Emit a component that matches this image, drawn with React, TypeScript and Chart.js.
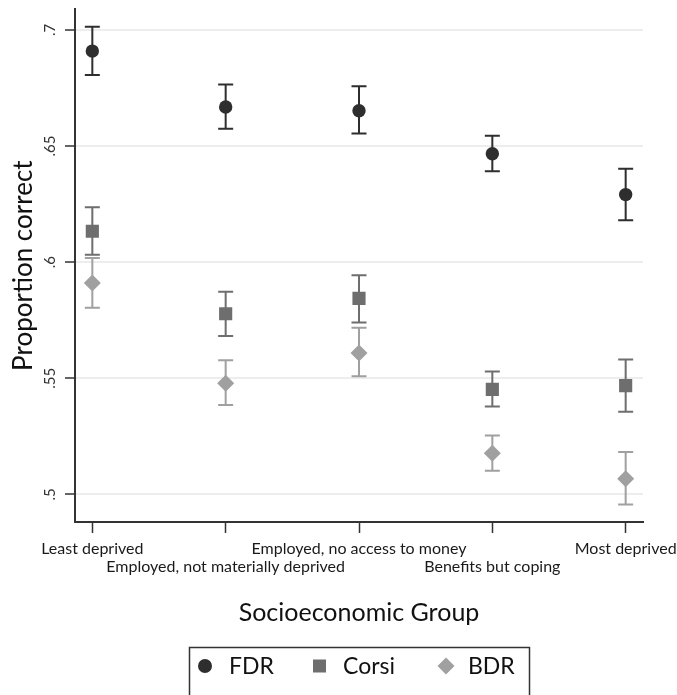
import React, { useEffect, useRef } from 'react';
import { Chart, registerables } from 'chart.js';

Chart.register(...registerables);

const categories = [
  'Least deprived',
  'Employed, not materially deprived',
  'Employed, no access to money',
  'Benefits but coping',
  'Most deprived',
];
const seriesNames = ['FDR', 'Corsi', 'BDR'];
const fdrMean = [0.6909, 0.6668, 0.6652, 0.6467, 0.6291];
const fdrLow = [0.6806, 0.6575, 0.6554, 0.6392, 0.618];
const fdrHigh = [0.7014, 0.6765, 0.6758, 0.6544, 0.6402];
const corsiMean = [0.6133, 0.5778, 0.5844, 0.5452, 0.5468];
const corsiLow = [0.6032, 0.5682, 0.574, 0.5378, 0.5356];
const corsiHigh = [0.6237, 0.5873, 0.5944, 0.5529, 0.5581];
const bdrMean = [0.591, 0.5479, 0.5609, 0.5177, 0.5067];
const bdrLow = [0.5804, 0.5385, 0.5509, 0.5102, 0.4956];
const bdrHigh = [0.6018, 0.5578, 0.5718, 0.5253, 0.5182];
const yTicks = [0.5, 0.55, 0.6, 0.65, 0.7];
const yTickLabels = ['.5', '.55', '.6', '.65', '.7'];

const colors = ['#2e2e2e', '#6e6e6e', '#a0a0a0'];
const pointStyles = ['circle', 'rect', 'rectRot'];
const pointRadii = [6.7, 9.3, 8.5];
const FONT = 'Lato';

const means = [fdrMean, corsiMean, bdrMean];
const lows = [fdrLow, corsiLow, bdrLow];
const highs = [fdrHigh, corsiHigh, bdrHigh];

const errorBarPlugin = {
  id: 'errorBars',
  beforeDatasetsDraw(chart: any) {
    const { ctx, scales } = chart;
    const xs = scales.x;
    const ys = scales.y;
    ctx.save();
    means.forEach((_, si) => {
      ctx.strokeStyle = colors[si];
      ctx.lineWidth = 2;
      categories.forEach((__, i) => {
        const x = xs.getPixelForValue(i);
        const yl = ys.getPixelForValue(lows[si][i]);
        const yh = ys.getPixelForValue(highs[si][i]);
        ctx.beginPath();
        ctx.moveTo(x, yl);
        ctx.lineTo(x, yh);
        ctx.moveTo(x - 7.5, yl);
        ctx.lineTo(x + 7.5, yl);
        ctx.moveTo(x - 7.5, yh);
        ctx.lineTo(x + 7.5, yh);
        ctx.stroke();
      });
    });
    ctx.restore();
  },
};

const textPlugin = {
  id: 'texts',
  afterDraw(chart: any) {
    const { ctx, scales, chartArea } = chart;
    const xs = scales.x;
    const ys = scales.y;
    ctx.save();
    // y tick labels (rotated)
    ctx.fillStyle = '#333';
    ctx.font = `15px ${FONT}`;
    ctx.textAlign = 'center';
    ctx.textBaseline = 'alphabetic';
    yTicks.forEach((v, i) => {
      const y = ys.getPixelForValue(v);
      ctx.save();
      ctx.translate(chartArea.left - 20, y);
      ctx.rotate(-Math.PI / 2);
      ctx.fillText(yTickLabels[i], 0, 0);
      ctx.restore();
    });
    // x tick labels, alternating rows
    ctx.fillStyle = '#1a1a1a';
    ctx.font = `16px ${FONT}`;
    categories.forEach((c, i) => {
      const x = xs.getPixelForValue(i);
      const y = chartArea.bottom + (i % 2 === 0 ? 32 : 50);
      ctx.fillText(c, x, y);
    });
    // legend box
    ctx.strokeStyle = '#333';
    ctx.lineWidth = 1.5;
    ctx.strokeRect(189.5, 647.5, 340, 100);
    const itemX = [205, 319.5, 446];
    const textX = [229, 343, 468];
    const cy = 666;
    ctx.font = `23px ${FONT}`;
    ctx.textAlign = 'left';
    ctx.fillStyle = '#111';
    seriesNames.forEach((name, si) => {
      ctx.fillStyle = colors[si];
      const x = itemX[si];
      ctx.beginPath();
      if (si === 0) {
        ctx.arc(x, cy, 7, 0, Math.PI * 2);
      } else if (si === 1) {
        ctx.rect(x - 6.5, cy - 6.5, 13, 13);
      } else {
        ctx.moveTo(x, cy - 8.5);
        ctx.lineTo(x + 8.5, cy);
        ctx.lineTo(x, cy + 8.5);
        ctx.lineTo(x - 8.5, cy);
        ctx.closePath();
      }
      ctx.fill();
      ctx.fillStyle = '#111';
      ctx.fillText(name, textX[si], 673.5);
    });
    ctx.restore();
  },
};

export default function App() {
  const ref = useRef<HTMLCanvasElement>(null);
  useEffect(() => {
    document.body.style.margin = '0';
    Chart.defaults.font.family = FONT;
    const chart = new Chart(ref.current!, {
      type: 'scatter',
      data: {
        datasets: seriesNames.map((name, si) => ({
          label: name,
          data: means[si].map((v, i) => ({ x: i, y: v })),
          backgroundColor: colors[si],
          borderColor: colors[si],
          borderWidth: 0,
          pointStyle: pointStyles[si] as any,
          pointRadius: pointRadii[si],
          pointHoverRadius: pointRadii[si],
        })),
      },
      options: {
        responsive: false,
        animation: false,
        devicePixelRatio: 1,
        layout: { padding: { left: 0, top: 7, right: 34, bottom: 63 } },
        plugins: { legend: { display: false }, tooltip: { enabled: false } },
        scales: {
          x: {
            type: 'linear',
            min: -0.13,
            max: 4.13,
            afterBuildTicks: (s: any) => {
              s.ticks = categories.map((_, i) => ({ value: i }));
            },
            afterFit: (s: any) => {
              s.height = 110;
            },
            grid: {
              drawOnChartArea: false,
              drawTicks: true,
              tickLength: 11,
              tickColor: '#333',
              tickWidth: 1.5,
            },
            border: { color: '#333', width: 2 },
            ticks: { display: false },
            title: {
              display: true,
              text: 'Socioeconomic Group',
              color: '#111',
              font: { family: FONT, size: 25 },
              padding: { top: 0, bottom: 4 },
            },
          },
          y: {
            min: 0.4881,
            max: 0.7089,
            afterBuildTicks: (s: any) => {
              s.ticks = yTicks.map((v) => ({ value: v }));
            },
            afterFit: (s: any) => {
              s.width = 75;
            },
            grid: {
              color: '#ededed',
              lineWidth: 2,
              drawTicks: true,
              tickLength: 10,
              tickColor: '#333',
              tickWidth: 1.5,
            },
            border: { color: '#333', width: 2 },
            ticks: { display: false },
            title: {
              display: true,
              text: 'Proportion correct',
              color: '#111',
              font: { family: FONT, size: 26 },
              padding: { top: 8, bottom: 0 },
            },
          },
        },
      },
      plugins: [errorBarPlugin, textPlugin],
    });
    return () => chart.destroy();
  }, []);
  return <canvas ref={ref} width={677} height={695} style={{ display: 'block' }} />;
}
